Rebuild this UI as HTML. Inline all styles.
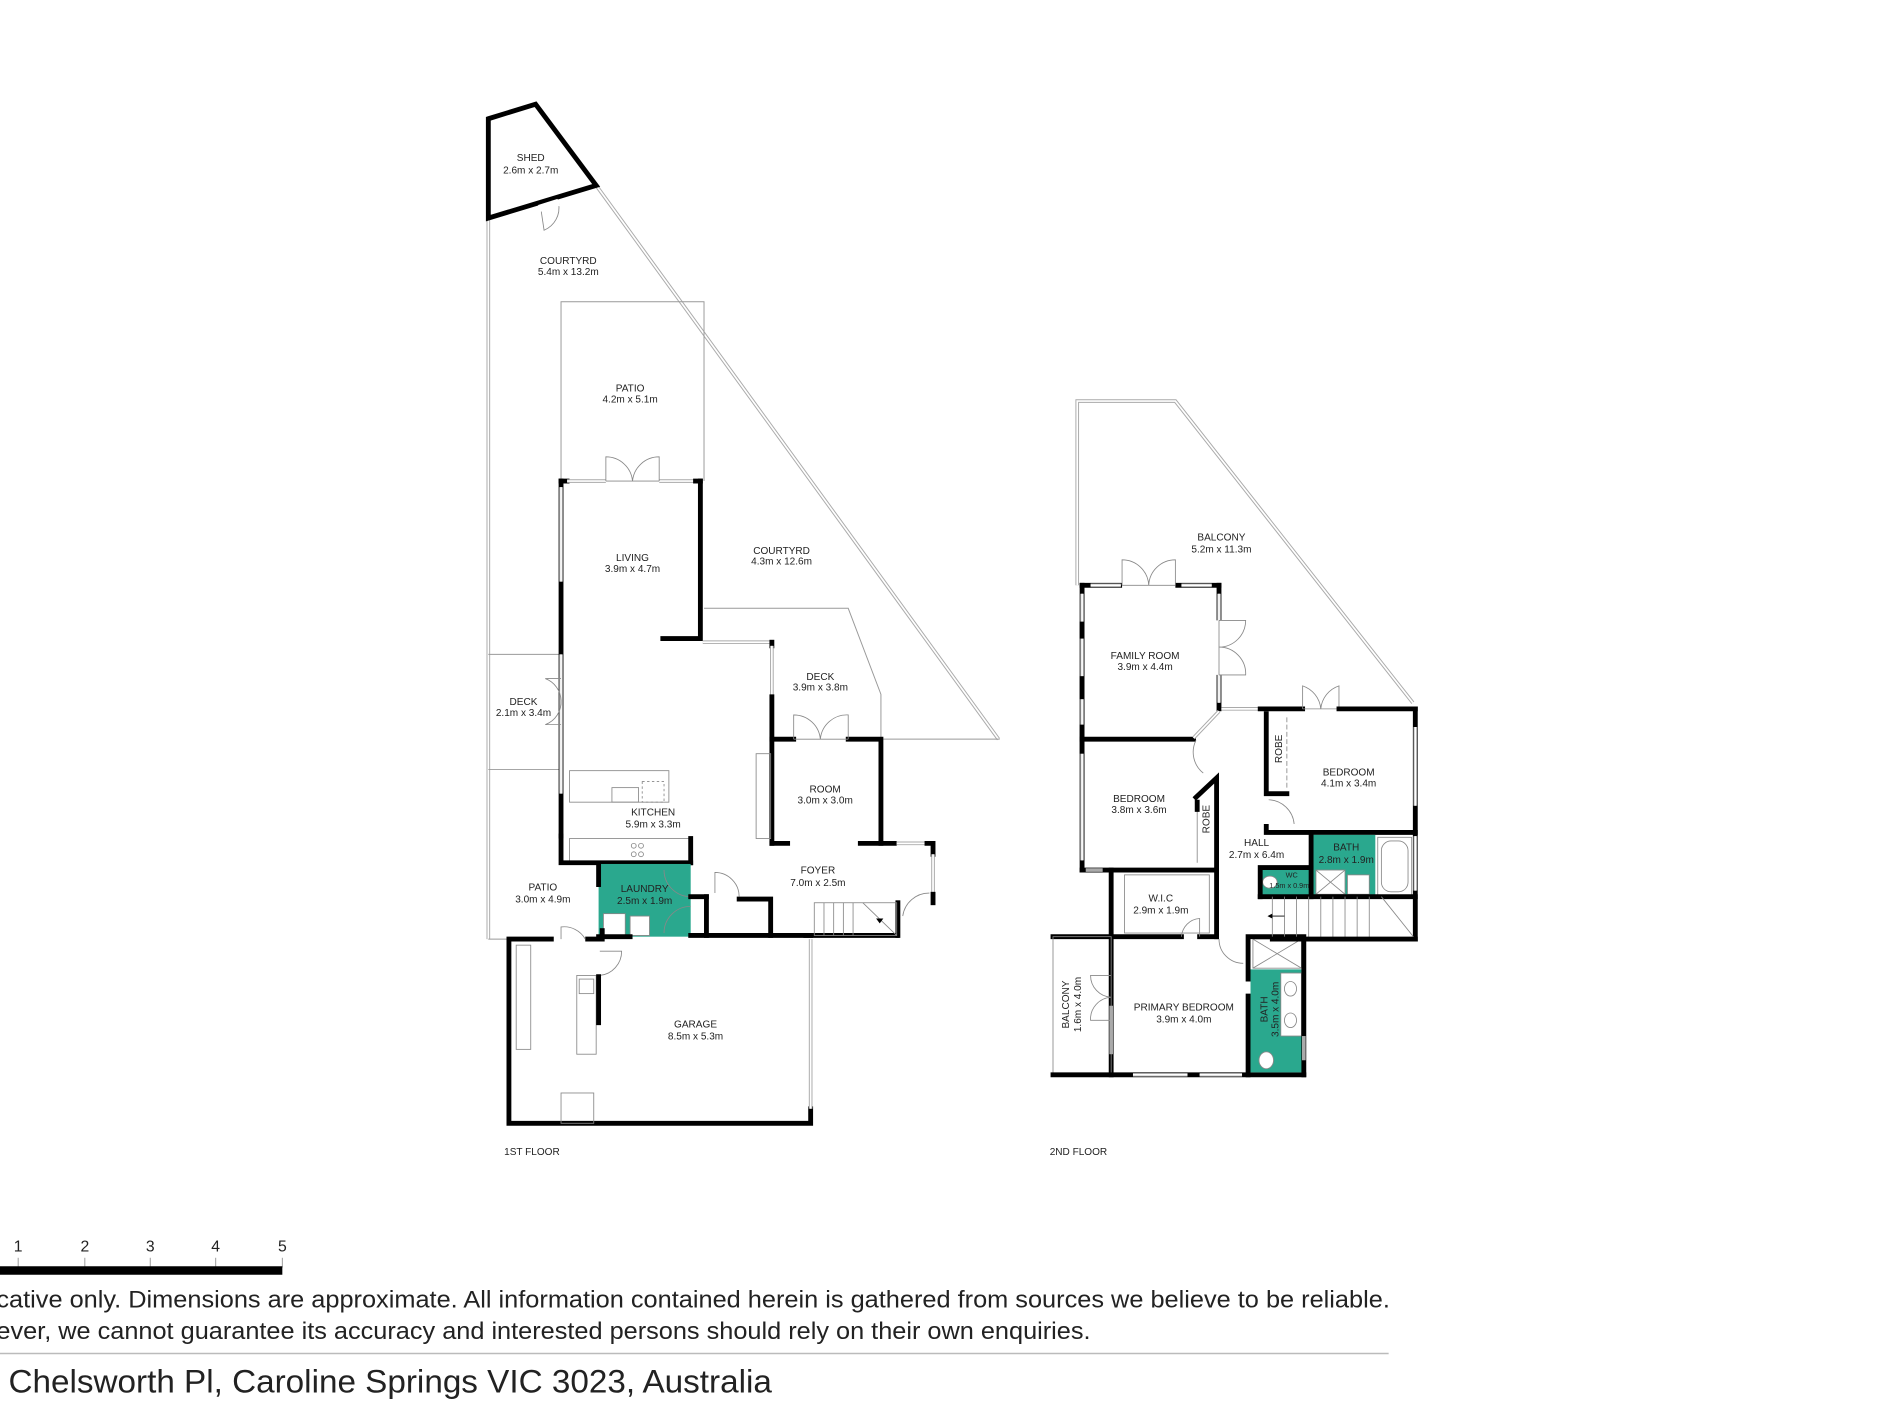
<!DOCTYPE html>
<html><head><meta charset="utf-8"><style>
html,body{margin:0;padding:0;background:#fff;}
svg{display:block}
text{font-family:"Liberation Sans",sans-serif;fill:#222}
.t{font-size:8.3px;text-anchor:middle}
.w{stroke:#000;stroke-width:4;fill:none;stroke-linecap:square}
.l{stroke:#999;stroke-width:0.8;fill:none}
.d{stroke:#888;stroke-width:0.7;fill:none}
.win{stroke:#aaa;stroke-width:3;fill:none}
.win2{stroke:#fff;stroke-width:1.4;fill:none}
.teal{fill:#2aa88e}
</style></head><body>
<svg width="1900" height="1425" viewBox="0 0 1568 1176" preserveAspectRatio="none" xmlns="http://www.w3.org/2000/svg">
<rect width="1600" height="1200" fill="#fff"/>

<!-- ===== 1ST FLOOR ===== -->
<line class="win" x1="403" y1="180" x2="403" y2="775"/><line class="win2" x1="403" y1="180" x2="403" y2="775"/>
<line class="win" x1="492" y1="153" x2="824" y2="610"/><line class="win2" x1="492" y1="153" x2="824" y2="610"/>
<line class="l" x1="727" y1="610" x2="825" y2="610"/>
<polyline class="l" points="463,397 463,249 581,249 581,397"/>
<polyline class="l" points="581,502 700,502 727,573 727,610"/>
<line class="l" x1="403" y1="540" x2="463" y2="540"/>
<line class="l" x1="403" y1="635" x2="463" y2="635"/>
<line class="l" x1="403" y1="775" x2="418" y2="775"/>

<polygon class="w" points="403,98 442,86 492,153 403,180" fill="none"/>
<path class="d" d="M446,170 L449,190 A20,20 0 0 0 461,168"/>
<line x1="445" y1="172" x2="461" y2="167" stroke="#fff" stroke-width="6"/>

<polyline class="w" points="578,397 578,527 547,527"/>
<line class="w" x1="463" y1="397" x2="463" y2="690"/>
<line class="win" x1="463" y1="402" x2="463" y2="480"/><line class="win2" x1="463" y1="402" x2="463" y2="480"/>
<line class="win" x1="463" y1="540" x2="463" y2="655"/><line class="win2" x1="463" y1="540" x2="463" y2="655"/>
<line class="w" x1="463" y1="397" x2="468" y2="397"/>
<line class="win" x1="468" y1="397" x2="573" y2="397"/><line class="win2" x1="468" y1="397" x2="573" y2="397"/>
<line x1="500" y1="397" x2="544" y2="397" stroke="#fff" stroke-width="5"/>
<line class="d" x1="500" y1="397" x2="544" y2="397"/>
<path class="d" d="M500,397 V377 A22,22 0 0 1 522,397 A22,22 0 0 1 544,377 V397"/>
<line class="w" x1="574" y1="397" x2="578" y2="397"/>
<path class="d" d="M463,560 H450 A20,20 0 0 1 463,578 A20,20 0 0 1 450,598 H463"/>

<line class="win" x1="580" y1="530" x2="635" y2="530"/><line class="win2" x1="580" y1="530" x2="635" y2="530"/>
<line class="w" x1="637" y1="530" x2="637" y2="533"/>
<line class="win" x1="637" y1="533" x2="637" y2="575"/><line class="win2" x1="637" y1="533" x2="637" y2="575"/>
<line class="w" x1="637" y1="575" x2="637" y2="696"/>
<polyline class="w" points="637,610 655,610"/><polyline class="w" points="700,610 727,610 727,696"/>
<path class="d" d="M655,610 V590 A22,22 0 0 1 677,610 A22,22 0 0 1 700,590 V610"/>
<line class="d" x1="655" y1="610" x2="700" y2="610"/>
<line class="w" x1="637" y1="696" x2="650" y2="696"/><line class="w" x1="710" y1="696" x2="738" y2="696"/>
<rect x="624" y="622" width="12" height="70" class="d"/>
<line class="win" x1="740" y1="696" x2="765" y2="696"/><line class="win2" x1="740" y1="696" x2="765" y2="696"/>
<polyline class="w" points="765,696 770,696 770,705"/>
<line class="win" x1="770" y1="705" x2="770" y2="738"/><line class="win2" x1="770" y1="705" x2="770" y2="738"/>
<line class="w" x1="770" y1="738" x2="770" y2="745"/>
<path class="d" d="M767,737 A22,22 0 0 0 745,756"/>
<polyline class="w" points="741,745 741,772"/>

<rect x="470" y="636" width="82" height="26" class="d"/>
<rect x="505" y="650" width="22" height="12" class="d"/>
<rect x="530" y="645" width="18" height="17" class="d" stroke-dasharray="2,2"/>
<rect x="470" y="692" width="100" height="20" class="d"/>
<circle cx="523" cy="698" r="2" class="d"/><circle cx="529" cy="698" r="2" class="d"/><circle cx="523" cy="705" r="2" class="d"/><circle cx="529" cy="705" r="2" class="d"/>
<polyline class="w" points="463,690 463,712 570,712"/>
<line class="w" x1="570" y1="692" x2="570" y2="712"/>

<rect x="494" y="713" width="76" height="60" class="teal"/>
<rect x="498" y="754" width="18" height="18" fill="#fff" stroke="#888" stroke-width="0.7"/>
<rect x="520" y="756" width="16" height="16" fill="#fff" stroke="#888" stroke-width="0.7"/>
<path d="M570,740 A22,22 0 0 1 548,718" class="d" stroke="#555"/>
<path d="M570,748 A22,22 0 0 0 548,770" class="d" stroke="#555"/>
<polyline class="w" points="494,730 494,714"/>
<line class="w" x1="494" y1="773" x2="520" y2="773"/>
<line class="w" x1="497" y1="773" x2="497" y2="768"/>
<line class="w" x1="570" y1="772" x2="740" y2="772"/>
<line class="w" x1="570" y1="740" x2="583" y2="740"/>
<line class="w" x1="583" y1="740" x2="583" y2="772"/>
<polyline class="w" points="610,742 636,742 636,772"/>
<path class="d" d="M590,737 V720 A20,20 0 0 1 610,740"/>

<g class="d">
<rect x="672" y="745" width="68" height="27"/>
<line x1="680" y1="745" x2="680" y2="772"/><line x1="688" y1="745" x2="688" y2="772"/><line x1="696" y1="745" x2="696" y2="772"/><line x1="704" y1="745" x2="704" y2="772"/>
<line x1="712" y1="745" x2="740" y2="772"/>
</g>
<path d="M723,758 l3,4 l3,-4 z" fill="#000"/>

<polyline class="w" points="455,775 420,775 420,927 669,927 669,915"/>
<line class="w" x1="485" y1="775" x2="497" y2="775"/>
<line class="win" x1="669" y1="775" x2="669" y2="915"/><line class="win2" x1="669" y1="775" x2="669" y2="915"/>
<line class="w" x1="665" y1="772" x2="669" y2="772"/>
<path class="d" d="M463,775 V765 A20,20 0 0 1 483,775"/>
<path class="d" d="M495,785 H513 A20,20 0 0 1 495,805"/>
<rect x="426" y="780" width="12" height="86" class="d"/>
<rect x="476" y="805" width="16" height="65" class="d"/>
<rect x="478" y="808" width="12" height="12" class="d"/>
<line class="w" x1="494" y1="806" x2="494" y2="844"/>
<rect x="463" y="902" width="27" height="25" class="d"/>

<text class="t" x="438" y="133">SHED</text><text class="t" x="438" y="143">2.6m x 2.7m</text>
<text class="t" x="469" y="218">COURTYRD</text><text class="t" x="469" y="227">5.4m x 13.2m</text>
<text class="t" x="520" y="323">PATIO</text><text class="t" x="520" y="332">4.2m x 5.1m</text>
<text class="t" x="522" y="463">LIVING</text><text class="t" x="522" y="472">3.9m x 4.7m</text>
<text class="t" x="645" y="457">COURTYRD</text><text class="t" x="645" y="466">4.3m x 12.6m</text>
<text class="t" x="677" y="561">DECK</text><text class="t" x="677" y="570">3.9m x 3.8m</text>
<text class="t" x="432" y="582">DECK</text><text class="t" x="432" y="591">2.1m x 3.4m</text>
<text class="t" x="681" y="654">ROOM</text><text class="t" x="681" y="663">3.0m x 3.0m</text>
<text class="t" x="539" y="673">KITCHEN</text><text class="t" x="539" y="683">5.9m x 3.3m</text>
<text class="t" x="675" y="721">FOYER</text><text class="t" x="675" y="731">7.0m x 2.5m</text>
<text class="t" x="448" y="735">PATIO</text><text class="t" x="448" y="745">3.0m x 4.9m</text>
<text class="t" x="532" y="736">LAUNDRY</text><text class="t" x="532" y="746">2.5m x 1.9m</text>
<text class="t" x="574" y="848">GARAGE</text><text class="t" x="574" y="858">8.5m x 5.3m</text>
<text class="t" x="439" y="953">1ST FLOOR</text>

<!-- ===== 2ND FLOOR ===== -->
<polyline class="win" points="889,483 889,331 970,331 1166,580"/><polyline class="win2" points="889,483 889,331 970,331 1166,580"/>

<line class="w" x1="893" y1="483" x2="1006" y2="483"/>
<line class="win" x1="900" y1="483" x2="925" y2="483"/><line class="win2" x1="900" y1="483" x2="925" y2="483"/>
<line x1="926" y1="483" x2="970" y2="483" stroke="#fff" stroke-width="5"/><line class="d" x1="926" y1="483" x2="970" y2="483"/>
<path class="d" d="M926,483 V462 A22,22 0 0 1 948,483 A22,22 0 0 1 970,462 V483"/>
<line class="win" x1="975" y1="483" x2="1000" y2="483"/><line class="win2" x1="975" y1="483" x2="1000" y2="483"/>
<line class="w" x1="1006" y1="483" x2="1006" y2="585"/>
<line class="win" x1="1006" y1="490" x2="1006" y2="580"/><line class="win2" x1="1006" y1="490" x2="1006" y2="580"/>
<line x1="1006" y1="512" x2="1006" y2="557" stroke="#fff" stroke-width="5"/><line class="d" x1="1006" y1="512" x2="1006" y2="557"/>
<path class="d" d="M1006,512 H1028 A22,22 0 0 1 1006,534 A22,22 0 0 1 1028,557 H1006"/>
<line class="w" x1="893" y1="483" x2="893" y2="718"/>
<line class="win" x1="893" y1="490" x2="893" y2="710"/><line class="win2" x1="893" y1="490" x2="893" y2="710"/>
<line class="w" x1="893" y1="515" x2="893" y2="525"/><line class="w" x1="893" y1="560" x2="893" y2="575"/><line class="w" x1="893" y1="600" x2="893" y2="620"/>
<line class="w" x1="893" y1="610" x2="985" y2="610"/>
<line class="win" x1="985" y1="609" x2="1006" y2="587"/><line class="win2" x1="985" y1="609" x2="1006" y2="587"/>
<path class="d" d="M987,611 A22,22 0 0 0 993,638"/>

<line class="win" x1="1008" y1="585" x2="1040" y2="585"/><line class="win2" x1="1008" y1="585" x2="1040" y2="585"/>
<line class="w" x1="1040" y1="585" x2="1075" y2="585"/>
<line class="d" x1="1075" y1="585" x2="1105" y2="585"/>
<path class="d" d="M1075,585 V566 A22,22 0 0 1 1090,585 A22,22 0 0 1 1105,566 V585"/>
<line class="w" x1="1105" y1="585" x2="1168" y2="585"/>
<line class="w" x1="1168" y1="585" x2="1168" y2="775"/>
<line class="win" x1="1168" y1="600" x2="1168" y2="665"/><line class="win2" x1="1168" y1="600" x2="1168" y2="665"/>
<line class="win" x1="1168" y1="690" x2="1168" y2="735"/><line class="win2" x1="1168" y1="690" x2="1168" y2="735"/>
<polyline class="w" points="1045,589 1045,655 1062,655"/>
<line class="d" x1="1062" y1="592" x2="1062" y2="652" stroke-dasharray="4,2"/>
<path class="d" d="M1047,660 A22,22 0 0 1 1068,680"/>
<polyline class="w" points="1045,682 1045,687 1168,687"/>

<polyline class="w" points="893,718 1004,718"/>
<line class="win" x1="896" y1="718" x2="910" y2="718"/>
<polyline class="w" points="987,658 1004,642 1004,718"/>
<line class="d" x1="988" y1="665" x2="988" y2="712"/>
<line class="w" x1="988" y1="662" x2="988" y2="668"/>

<line class="w" x1="917" y1="718" x2="917" y2="887"/>
<rect x="928" y="722" width="70" height="48" class="d"/>
<line class="w" x1="869" y1="773" x2="975" y2="773"/>
<line class="w" x1="990" y1="773" x2="1004" y2="773"/>
<line class="w" x1="1004" y1="718" x2="1004" y2="773"/>
<path class="d" d="M975,773 A16,16 0 0 1 990,758 V773"/>
<path class="d" d="M1006,775 A20,20 0 0 0 1026,795"/>

<rect x="869" y="773" width="48" height="114" class="d"/>
<path class="d" d="M917,805 H900 A18,18 0 0 0 917,823 A18,18 0 0 0 900,842 H917"/>
<line class="w" x1="869" y1="887" x2="1076" y2="887"/>
<line class="win" x1="935" y1="887" x2="980" y2="887"/><line class="win2" x1="935" y1="887" x2="980" y2="887"/>
<line class="win" x1="990" y1="887" x2="1025" y2="887"/><line class="win2" x1="990" y1="887" x2="1025" y2="887"/>
<line class="win" x1="917" y1="830" x2="917" y2="870"/>

<rect x="1032" y="800" width="43" height="85" class="teal"/>
<rect x="1034" y="775" width="40" height="24" class="d"/><line class="d" x1="1034" y1="775" x2="1074" y2="799"/><line class="d" x1="1074" y1="775" x2="1034" y2="799"/>
<rect x="1057" y="803" width="17" height="52" fill="#fff" stroke="#888" stroke-width="0.7"/>
<ellipse cx="1065" cy="816" rx="5" ry="6" class="d"/><ellipse cx="1065" cy="842" rx="5" ry="6" class="d"/>
<ellipse cx="1045" cy="875" rx="6" ry="7" fill="#fff" stroke="#888" stroke-width="0.7"/>
<polyline class="w" points="1030,808 1030,773 1076,773 1076,887"/>
<line class="w" x1="1030" y1="822" x2="1030" y2="887"/>
<line class="win" x1="1076" y1="855" x2="1076" y2="875"/>

<rect x="1082" y="689" width="53" height="50" class="teal"/>
<rect x="1040" y="716" width="42" height="24" class="teal"/>
<rect x="1137" y="691" width="28" height="48" class="d"/><rect x="1140" y="694" width="22" height="42" rx="8" class="d"/>
<rect x="1086" y="718" width="24" height="20" fill="#fff" stroke="#888" stroke-width="0.7"/>
<line class="d" x1="1086" y1="718" x2="1110" y2="738"/><line class="d" x1="1110" y1="718" x2="1086" y2="738"/>
<rect x="1112" y="722" width="18" height="16" fill="#fff" stroke="#888" stroke-width="0.7"/>
<ellipse cx="1048" cy="728" rx="6" ry="5" fill="#fff" stroke="#888" stroke-width="0.7"/>
<line class="w" x1="1082" y1="688" x2="1082" y2="740"/>
<polyline class="w" points="1040,740 1040,716 1082,716"/>
<line class="w" x1="1040" y1="740" x2="1168" y2="740"/>
<g class="d">
<line x1="1050" y1="740" x2="1050" y2="775"/><line x1="1060" y1="740" x2="1060" y2="775"/><line x1="1070" y1="740" x2="1070" y2="775"/><line x1="1080" y1="740" x2="1080" y2="775"/><line x1="1090" y1="740" x2="1090" y2="775"/><line x1="1100" y1="740" x2="1100" y2="775"/><line x1="1110" y1="740" x2="1110" y2="775"/><line x1="1120" y1="740" x2="1120" y2="775"/><line x1="1130" y1="740" x2="1130" y2="775"/><line x1="1140" y1="740" x2="1168" y2="775"/>
</g>
<path d="M1046,756 l4,-2 v4 z" fill="#000"/><line x1="1050" y1="756" x2="1060" y2="756" stroke="#000" stroke-width="0.7"/>
<line class="w" x1="1050" y1="775" x2="1168" y2="775"/>

<text class="t" x="945" y="544">FAMILY ROOM</text><text class="t" x="945" y="553">3.9m x 4.4m</text>
<text class="t" x="1008" y="446">BALCONY</text><text class="t" x="1008" y="456">5.2m x 11.3m</text>
<text class="t" x="1113" y="640">BEDROOM</text><text class="t" x="1113" y="649">4.1m x 3.4m</text>
<text class="t" x="940" y="662">BEDROOM</text><text class="t" x="940" y="671">3.8m x 3.6m</text>
<text class="t" x="1037" y="698">HALL</text><text class="t" x="1037" y="708">2.7m x 6.4m</text>
<text class="t" x="1111" y="702">BATH</text><text class="t" x="1111" y="712">2.8m x 1.9m</text>
<text class="t" x="1066" y="724" style="font-size:6px">WC</text><text class="t" x="1064" y="733" style="font-size:6px">1.5m x 0.9m</text>
<text class="t" x="958" y="744">W.I.C</text><text class="t" x="958" y="754">2.9m x 1.9m</text>
<text class="t" x="977" y="834">PRIMARY BEDROOM</text><text class="t" x="977" y="844">3.9m x 4.0m</text>
<text class="t" transform="translate(1058,618) rotate(-90)">ROBE</text>
<text class="t" transform="translate(998,676) rotate(-90)">ROBE</text>
<text class="t" transform="translate(882,829) rotate(-90)">BALCONY</text>
<text class="t" transform="translate(892,829) rotate(-90)">1.6m x 4.0m</text>
<text class="t" transform="translate(1046,833) rotate(-90)">BATH</text>
<text class="t" transform="translate(1055,833) rotate(-90)">3.5m x 4.0m</text>
<text class="t" x="890" y="953">2ND FLOOR</text>

<text x="15" y="1033" class="t" style="font-size:13px">1</text>
<text x="70" y="1033" class="t" style="font-size:13px">2</text>
<text x="124" y="1033" class="t" style="font-size:13px">3</text>
<text x="178" y="1033" class="t" style="font-size:13px">4</text>
<text x="233" y="1033" class="t" style="font-size:13px">5</text>
<g stroke="#999" stroke-width="0.8"><line x1="15" y1="1038" x2="15" y2="1046"/><line x1="70" y1="1038" x2="70" y2="1046"/><line x1="124" y1="1038" x2="124" y2="1046"/><line x1="178" y1="1038" x2="178" y2="1046"/><line x1="233" y1="1038" x2="233" y2="1046"/></g>
<rect x="0" y="1045" width="233" height="7" fill="#000"/>

<text x="-3" y="1079" style="font-size:19.5px" textLength="1150" lengthAdjust="spacingAndGlyphs">cative only. Dimensions are approximate. All information contained herein is gathered from sources we believe to be reliable.</text>
<text x="-3" y="1105" style="font-size:19.5px" textLength="903" lengthAdjust="spacingAndGlyphs">ever, we cannot guarantee its accuracy and interested persons should rely on their own enquiries.</text>
<line x1="0" y1="1117" x2="1146" y2="1117" stroke="#bbb" stroke-width="1.2"/>
<text x="7" y="1149" style="font-size:27px" textLength="630" lengthAdjust="spacingAndGlyphs">Chelsworth Pl, Caroline Springs VIC 3023, Australia</text>
</svg>
</body></html>
